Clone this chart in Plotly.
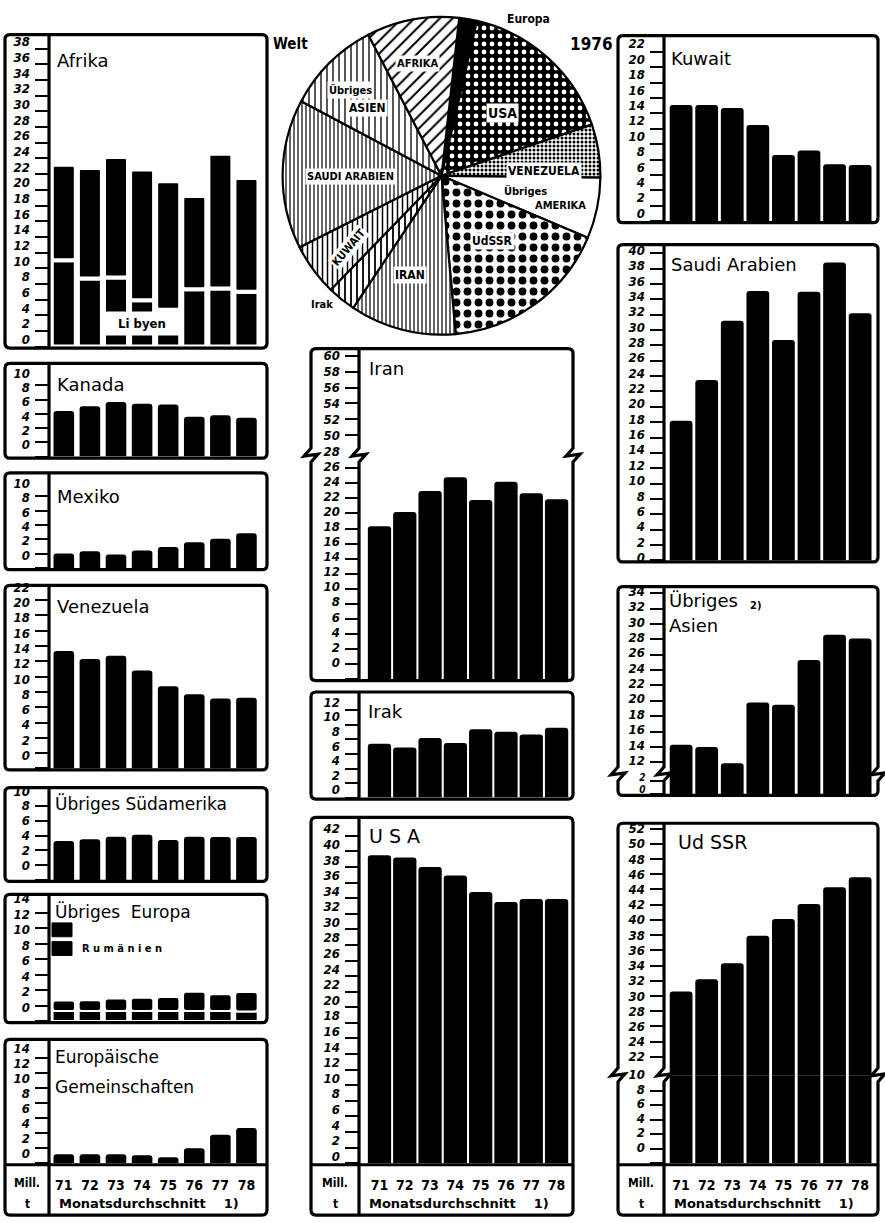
import plotly.graph_objects as go

W, H = 885, 1223

# ---------------- data (Mill. t, Monatsdurchschnitt) ----------------
years = [71, 72, 73, 74, 75, 76, 77, 78]
year_labels = ["71", "72", "73", "74", "75", "76", "77", "78"]

libyen = [11.0, 8.7, 8.8, 5.9, 4.7, 7.3, 7.4, 7.0]
afrika_rest = [12.2, 14.1, 15.4, 16.7, 16.4, 11.9, 17.2, 14.5]
kanada = [6.4, 7.05, 7.65, 7.4, 7.3, 5.6, 5.8, 5.45]
mexiko = [2.05, 2.35, 1.9, 2.45, 2.95, 3.6, 4.1, 4.85]
venezuela = [15.35, 14.3, 14.75, 12.8, 10.75, 9.7, 9.15, 9.25]
suedamerika_rest = [5.25, 5.5, 5.85, 6.1, 5.4, 5.85, 5.8, 5.8]
rumaenien = [1.3, 1.3, 1.3, 1.3, 1.3, 1.3, 1.3, 1.25]
europa_rest = [1.35, 1.4, 1.6, 1.7, 1.8, 2.5, 2.15, 2.5]
eg = [1.2, 1.2, 1.2, 1.05, 0.8, 2.0, 3.8, 4.7]
iran = [20.3, 22.2, 25.0, 26.8, 23.8, 26.2, 24.7, 23.9]
irak = [7.4, 6.9, 8.2, 7.5, 9.4, 9.05, 8.7, 9.6]
usa = [39.5, 39.2, 38.0, 36.9, 34.8, 33.5, 33.9, 33.9]
kuwait = [15.1, 15.1, 14.7, 12.5, 8.6, 9.2, 7.4, 7.3]
saudi = [18.2, 23.5, 31.2, 35.1, 28.7, 35.0, 38.8, 32.2]
asien_rest = [14.3, 14.0, 11.9, 19.8, 19.5, 25.3, 28.6, 28.1]
udssr = [30.6, 32.2, 34.3, 37.9, 40.1, 42.1, 44.3, 45.6]

pie_labels = ["Europa", "USA", "Venezuela", "Übriges Amerika", "UdSSR", "Iran",
              "Irak", "Kuwait", "Saudi Arabien", "Übriges Asien", "Afrika"]
pie_shares = [1.8, 16.2, 5.4, 6.2, 17.2, 10.8, 2.9, 5.3, 15.2, 9.6, 9.4]

# ---------------- helpers ----------------
def fx(x):
    return x / W


def fy(y):
    return 1 - y / H


def P(x, y):
    return f"{fx(x):.5f},{fy(y):.5f}"


COLS = {
    "L": dict(x0=5, x1=267, ax=49, xr=[70.49, 78.73], bw=0.79),
    "C": dict(x0=311, x1=573, ax=359, xr=[70.25, 78.59], bw=0.92),
    "R": dict(x0=618, x1=878, ax=664, xr=[70.39, 78.64], bw=0.89),
}

TITLEFAM = "DejaVu Sans"
BOLDFAM = "DejaVu Sans Condensed, DejaVu Sans"


def tickfont(size=13):
    return dict(family=BOLDFAM, size=size, color="black", weight="bold", style="italic")


layout = dict(width=W, height=H, margin=dict(l=0, r=0, t=0, b=0),
              paper_bgcolor="white", plot_bgcolor="white", showlegend=False,
              barmode="overlay")
shapes = []
annotations = []
fig = go.Figure()
n_axes = [0]


def add_axes(col, top, bottom, yrange, tickvals, shift, years_axis=False, fsize=13):
    n_axes[0] += 1
    i = n_axes[0]
    c = COLS[col]
    sfx = "" if i == 1 else str(i)
    xa = dict(domain=[fx(c["ax"] + 1.5), fx(c["x1"] - 1.5)], range=c["xr"],
              anchor="y" + sfx, showgrid=False, zeroline=False, showline=False,
              fixedrange=True)
    if years_axis:
        xa.update(tickmode="array", tickvals=years, ticktext=year_labels, ticks="",
                  showticklabels=True, ticklabelstandoff=12,
                  tickfont=dict(family=BOLDFAM, size=14, color="black", weight="bold"))
    else:
        xa.update(visible=False)
    tv = list(tickvals)
    ya = dict(domain=[fy(bottom), fy(top)], range=yrange, anchor="x" + sfx,
              tickmode="array", tickvals=tv, ticktext=[str(v) for v in tv],
              ticks="outside", ticklen=15, tickwidth=2, tickcolor="black",
              showgrid=False, zeroline=False, showline=False, tickfont=tickfont(fsize),
              ticklabelshift=-int(round(shift)), ticklabelstandoff=2, fixedrange=True)
    layout["xaxis" + sfx] = xa
    layout["yaxis" + sfx] = ya
    return ("x" + sfx, "y" + sfx)


def simple_axes(col, outer_top, baseline, scale, tickvals, shift, years_axis=False):
    top = outer_top + 1.5
    return add_axes(col, top, baseline, [0, (baseline - top) / scale], tickvals, shift,
                    years_axis)


def bars(ax, values, width, base=None, gap=0):
    fig.add_trace(go.Bar(x=years, y=values, base=base, width=width,
                         xaxis=ax[0], yaxis=ax[1],
                         marker=dict(color="black", cornerradius=3,
                                     line=dict(color="white", width=gap)),
                         hoverinfo="skip"))


def zig_down(x, b):
    return f" L{P(x, b - 7)} L{P(x - 7, b + 1)} L{P(x + 7, b - 1)} L{P(x, b + 7)}"


def zig_up(x, b):
    return f" L{P(x, b + 7)} L{P(x + 7, b - 1)} L{P(x - 7, b + 1)} L{P(x, b - 7)}"


def text(x, y, s, size=18, bold=False, anchor="left", bg="rgba(0,0,0,0)", angle=0,
         family=TITLEFAM):
    annotations.append(dict(x=fx(x), y=fy(y), xref="paper", yref="paper", text=s,
                            showarrow=False, xanchor=anchor, yanchor="middle",
                            font=dict(family=family, size=size, color="black",
                                      weight="bold" if bold else "normal"),
                            bgcolor=bg, textangle=angle, borderpad=1))


def frame(col, y0, y1, breaks=(), strip=None, r=5):
    c = COLS[col]
    x0, x1, ax = c["x0"], c["x1"], c["ax"]
    d = f"M{P(x0 + r, y0)} L{P(x1 - r, y0)} Q{P(x1, y0)} {P(x1, y0 + r)}"
    for b in breaks:
        d += zig_down(x1, b)
    d += (f" L{P(x1, y1 - r)} Q{P(x1, y1)} {P(x1 - r, y1)} L{P(x0 + r, y1)}"
          f" Q{P(x0, y1)} {P(x0, y1 - r)}")
    for b in reversed(breaks):
        d += zig_up(x0, b)
    d += f" L{P(x0, y0 + r)} Q{P(x0, y0)} {P(x0 + r, y0)} Z"
    shapes.append(dict(type="path", xref="paper", yref="paper", path=d,
                       line=dict(color="black", width=3.2),
                       fillcolor="rgba(0,0,0,0)", layer="above"))
    dv = f"M{P(ax, y0)}"
    for b in breaks:
        dv += zig_down(ax, b)
    dv += f" L{P(ax, y1)}"
    shapes.append(dict(type="path", xref="paper", yref="paper", path=dv,
                       line=dict(color="black", width=3.2), layer="above"))
    if strip is not None:
        shapes.append(dict(type="line", xref="paper", yref="paper",
                           x0=fx(x0), x1=fx(x1), y0=fy(strip), y1=fy(strip),
                           line=dict(color="black", width=3)))
        xm = (x0 + ax) / 2
        text(xm, strip + 19, "Mill.", 12, bold=True, anchor="center", family=BOLDFAM)
        text(xm, strip + 40, "t", 12, bold=True, anchor="center", family=BOLDFAM)
        text(ax + 8, strip + 39, "Monatsdurchschnitt&nbsp;&nbsp;&nbsp;&nbsp;1)", 13,
             bold=True, family="DejaVu Sans")


# ---------------- left column ----------------
a = simple_axes("L", 24, 340, 7.94, range(0, 39, 2), 7)
bars(a, libyen, 0.92, gap=4)
bars(a, afrika_rest, 0.92, base=libyen, gap=4)
annotations.append(dict(x=74, y=3.0, xref=a[0], yref=a[1], text="Li byen",
                        showarrow=False, xanchor="center", yanchor="middle",
                        width=74, height=21, bgcolor="white",
                        font=dict(family=BOLDFAM, size=13, color="black", weight="bold")))
frame("L", 24, 341.5)
text(55, 50, "Afrika")

a = simple_axes("L", 357, 451.5, 7.23, range(0, 11, 2), 12)
bars(a, kanada, COLS["L"]["bw"])
frame("L", 357, 453)
text(55, 378, "Kanada")

a = simple_axes("L", 468, 564.5, 7.27, range(0, 11, 2), 13)
bars(a, mexiko, COLS["L"]["bw"])
frame("L", 468, 566)
text(55, 492, "Mexiko")

a = simple_axes("L", 582, 767.5, 7.75, range(0, 23, 2), 13)
bars(a, venezuela, COLS["L"]["bw"])
frame("L", 582, 769)
text(55, 603, "Venezuela")

a = simple_axes("L", 787, 880.5, 7.5, range(0, 11, 2), 15)
bars(a, suedamerika_rest, COLS["L"]["bw"])
frame("L", 787, 882)
text(53, 803, "Übriges Südamerika", 17)

a = simple_axes("L", 895, 1023.5, 7.86, range(0, 15, 2), 14)
bars(a, rumaenien, 0.86, gap=2)
bars(a, europa_rest, 0.86, base=rumaenien, gap=2)
frame("L", 895, 1025)
text(53, 912, "Übriges  Europa", 17)
for yy in (924, 943):
    shapes.append(dict(type="rect", xref="paper", yref="paper", x0=fx(52), x1=fx(72),
                       y0=fy(yy + 14), y1=fy(yy), fillcolor="black",
                       line=dict(color="black", width=1)))
text(80, 950, "R u m ä n i e n", 11, bold=True, family=BOLDFAM)

a = simple_axes("L", 1042, 1167.5, 7.6, range(0, 15, 2), 10, years_axis=True)
bars(a, eg, COLS["L"]["bw"])
frame("L", 1042, 1220, strip=1169)
text(53, 1060, "Europäische", 17)
text(53, 1090, "Gemeinschaften", 17)

# ---------------- center column ----------------
a = add_axes("C", 343.5, 450, [47.45, 60.75], range(50, 61, 2), 0)
bars(a, iran, COLS["C"]["bw"])
a = add_axes("C", 450, 677, [0, 227 / 7.63], range(0, 29, 2), 17)
bars(a, iran, COLS["C"]["bw"])
frame("C", 342, 678.5, breaks=(450,))
text(367, 362, "Iran")

a = simple_axes("C", 690, 797, 7.36, range(0, 13, 2), 8)
bars(a, irak, COLS["C"]["bw"])
frame("C", 690, 798.5)
text(366, 710, "Irak")

a = simple_axes("C", 817, 1167.5, 7.9, range(0, 43, 2), 7, years_axis=True)
bars(a, usa, COLS["C"]["bw"])
frame("C", 817, 1220, strip=1169)
text(367, 836, "U S A", 19)

# ---------------- right column ----------------
a = simple_axes("R", 25, 213, 7.8, range(0, 23, 2), 8)
bars(a, kuwait, COLS["R"]["bw"])
frame("R", 25, 214.5)
text(669, 48, "Kuwait")

a = simple_axes("R", 236.7, 556.7, 7.78, range(0, 41, 2), 3)
bars(a, saudi, COLS["R"]["bw"])
frame("R", 236.7, 558.2)
text(669, 257, "Saudi Arabien")

a = add_axes("R", 584.8, 770, [10.9, 34.65], range(12, 35, 2), 2)
bars(a, asien_rest, COLS["R"]["bw"])
a = add_axes("R", 770, 793.3, [0, 3.7], [0, 2], 4, fsize=10)
bars(a, asien_rest, COLS["R"]["bw"])
frame("R", 583.3, 794.8, breaks=(773,))
text(667, 597, "Übriges")
text(667, 623, "Asien")
text(748, 602, "2)", 11, bold=True, family=BOLDFAM)

a = add_axes("R", 824.5, 1078.3, [19.6, 52.5], range(22, 53, 2), 0)
bars(a, udssr, COLS["R"]["bw"])
a = add_axes("R", 1078.3, 1167.5, [0, 89.2 / 7.34], range(0, 11, 2), 16, years_axis=True)
bars(a, udssr, COLS["R"]["bw"])
frame("R", 823, 1220, breaks=(1078,), strip=1169)
text(676, 842, "Ud SSR", 19)

# ---------------- pie (Welt 1976) ----------------
fig.add_trace(go.Pie(
    labels=pie_labels, values=pie_shares, sort=False, direction="clockwise",
    rotation=6.4, textinfo="none", hoverinfo="skip",
    domain=dict(x=[fx(280), fx(603)], y=[fy(328), fy(6)]),
    marker=dict(
        colors=["black", "black", "white", "white", "white", "white", "white",
                "white", "white", "white", "white"],
        line=dict(color="black", width=2.2),
        pattern=dict(
            shape=["", ".", ".", "", ".", "|", "|", "|", "|", "|", "/"],
            fgcolor=["black", "white", "black", "black", "black", "black", "black",
                     "black", "black", "black", "black"],
            bgcolor=["black", "black", "white", "white", "white", "white", "white",
                     "white", "white", "white", "white"],
            size=[8, 8, 4, 8, 11, 4, 6, 5, 4, 6, 9],
            solidity=[0.3, 0.28, 0.45, 0.3, 0.4, 0.3, 0.3, 0.3, 0.3, 0.22, 0.22],
            fillmode="replace"),
    ),
))

PF = BOLDFAM
text(528, 8, "Europa", 12, bold=True, anchor="center", family=PF)
text(290, 33, "Welt", 15, bold=True, anchor="center", family=PF)
text(591, 33, "1976", 17, bold=True, anchor="center", family=PF)
text(417, 53, "AFRIKA", 11, bold=True, anchor="center", family=PF, bg="white")
text(350, 80, "Übriges", 11, bold=True, anchor="center", family=PF, bg="white")
text(367, 98, "ASIEN", 12, bold=True, anchor="center", family=PF, bg="white")
text(503, 103, "USA", 14, bold=True, anchor="center", family=PF, bg="white")
text(544, 162, "VENEZUELA", 12, bold=True, anchor="center", family=PF, bg="white")
text(525, 182, "Übriges", 11, bold=True, anchor="center", family=PF)
text(560, 197, "AMERIKA", 11, bold=True, anchor="center", family=PF)
text(350, 168, "SAUDI ARABIEN", 11, bold=True, anchor="center", family=PF, bg="white")
text(492, 233, "UdSSR", 12, bold=True, anchor="center", family=PF, bg="white")
text(349, 240, "KUWAIT", 11, bold=True, anchor="center", family=PF, bg="white", angle=-50)
text(410, 267, "IRAN", 12, bold=True, anchor="center", family=PF, bg="white")
text(322, 297, "Irak", 11, bold=True, anchor="center", family=PF)

layout["shapes"] = shapes
layout["annotations"] = annotations
fig.update_layout(**layout)
fig.write_html("out.html", config={"displayModeBar": False},
               post_script="document.body.style.margin='0px';")
